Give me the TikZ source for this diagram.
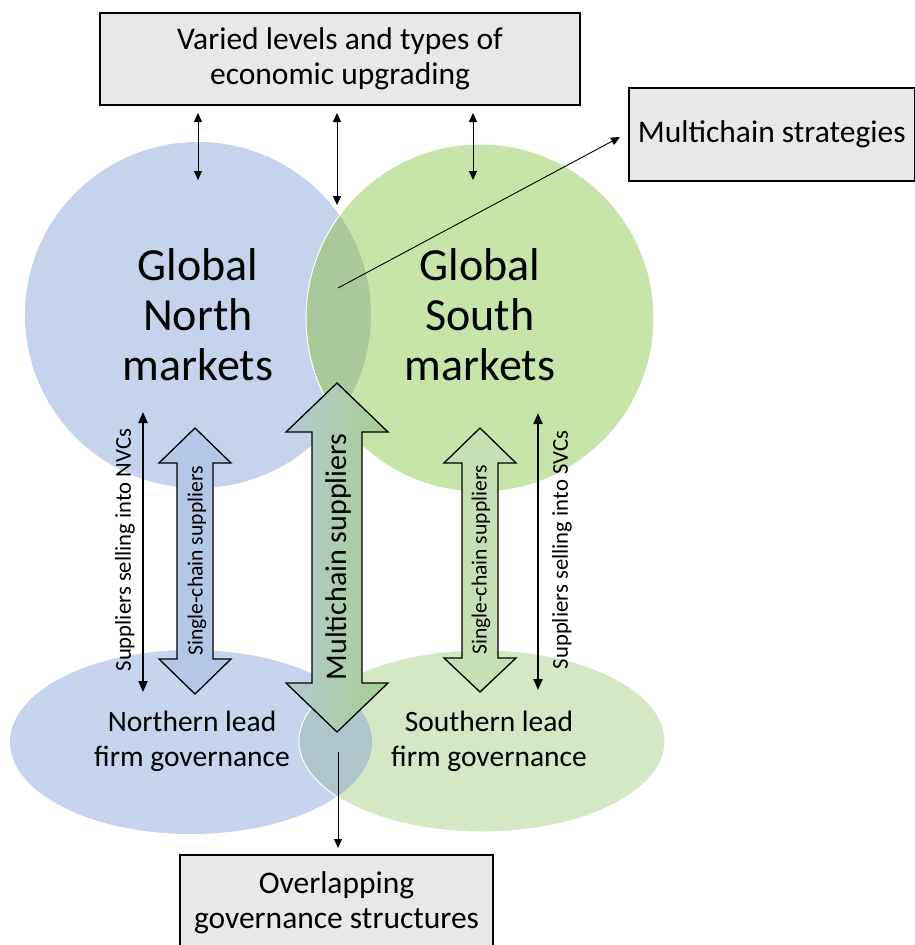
\documentclass[tikz,border=0pt]{standalone}
\usepackage{fontspec}
\setmainfont{Carlito}
\usetikzlibrary{arrows.meta}
\definecolor{nblue}{HTML}{C5D3EC}
\definecolor{sgreen}{HTML}{C7E4A9}
\definecolor{ovtop}{HTML}{A9C99B}
\definecolor{eblue}{HTML}{C6D4EE}
\definecolor{egreen}{HTML}{D4E8C5}
\definecolor{ovbot}{HTML}{ADC5CB}
\definecolor{boxgray}{HTML}{E8E8E8}
\definecolor{arrblue}{HTML}{B4C7E7}
\definecolor{arrgreen}{HTML}{C5E0B4}
\definecolor{mcleft}{HTML}{B3C8D3}
\definecolor{mcright}{HTML}{A6D08E}
\tikzset{
  infobox/.style={draw=black, line width=1.5pt, fill=boxgray, align=center,
    font=\fontsize{31.5}{35}\selectfont, inner sep=0pt},
  bigtext/.style={align=center, font=\fontsize{46}{50}\selectfont},
  govtext/.style={align=center, font=\fontsize{29.5}{35}\selectfont},
  thinarrow/.style={line width=0.9pt, {Triangle[length=9pt,width=8pt]}-{Triangle[length=9pt,width=8pt]}},
  onearrow/.style={line width=0.9pt, -{Triangle[length=9pt,width=8pt]}},
  thickarrow/.style={line width=2pt, {Triangle[length=11pt,width=9pt]}-{Triangle[length=11pt,width=9pt]}},
  sidetext/.style={rotate=90, font=\fontsize{22.7}{26}\selectfont},
  chaintext/.style={rotate=90, font=\fontsize{21.6}{26}\selectfont},
  fatarrow/.style={draw=black, line width=1.3pt, line join=miter},
}
\begin{document}
\begin{tikzpicture}[x=1pt,y=-1pt]
\useasboundingbox (0,0) rectangle (915,945);

% top circles
\fill[nblue] (198,315) circle[radius=173pt];
\fill[sgreen] (480,318) circle[radius=174pt];
\begin{scope}
  \clip (198,315) circle[radius=173pt];
  \fill[ovtop] (480,318) circle[radius=174pt];
\end{scope}
\draw[white, line width=1pt] (480,318) circle[radius=174pt];

% bottom ellipses
\fill[eblue] (191,742) ellipse[x radius=181pt, y radius=92pt];
\fill[egreen] (482,741) ellipse[x radius=183pt, y radius=91pt];
\begin{scope}
  \clip (191,742) ellipse[x radius=181pt, y radius=92pt];
  \fill[ovbot] (482,741) ellipse[x radius=183pt, y radius=91pt];
\end{scope}
\draw[white, line width=1pt] (482,741) ellipse[x radius=183pt, y radius=91pt];

% labels in circles and ellipses
\node[bigtext] (north) at (198,315) {Global\\North\\markets};
\node[bigtext] (south) at (480,315) {Global\\South\\markets};
\node[govtext] (ngov) at (192,741) {Northern lead\\firm governance};
\node[govtext] (sgov) at (489,741) {Southern lead\\firm governance};

% boxes
\node[infobox, minimum width=480pt, minimum height=92pt] (upgr) at (340,59)
  {Varied levels and types of\\economic upgrading};
\node[infobox, minimum width=286pt, minimum height=93pt, anchor=west] (mcs) at (628,134.5)
  {Multichain strategies};
\node[infobox, minimum width=313pt, minimum height=96pt] (ogov) at (336.5,903)
  {Overlapping\\governance structures};

% single-chain arrows
\draw[fatarrow, fill=arrblue] (195,428) -- (231,463) -- (213,463) -- (213,659) -- (231,659)
  -- (195,694) -- (159,659) -- (177,659) -- (177,463) -- (159,463) -- cycle;
\node[chaintext] (scn) at (197,561) {Single-chain suppliers};
\draw[fatarrow, fill=arrgreen] (480,428) -- (516,463) -- (498,463) -- (498,658) -- (516,658)
  -- (480,692) -- (444,658) -- (462,658) -- (462,463) -- (444,463) -- cycle;
\node[chaintext] (scs) at (481,560) {Single-chain suppliers};

% multichain arrow
\draw[fatarrow, left color=mcleft, right color=mcright] (337,383) -- (388,432) -- (362,432)
  -- (362,683) -- (388,683) -- (337,732) -- (286,683) -- (312,683) -- (312,432)
  -- (286,432) -- cycle;
\node[rotate=90, font=\fontsize{30}{34}\selectfont] (mcsup) at (338,557) {Multichain suppliers};

% black side arrows
\coordinate (nvtop) at (143,412);
\coordinate (nvbot) at (143,692);
\draw[thickarrow] (nvtop) -- (nvbot);
\node[sidetext] (nvc) at (125,550) {Suppliers selling into NVCs};
\coordinate (svtop) at (538,413);
\coordinate (svbot) at (538,690);
\draw[thickarrow] (svtop) -- (svbot);
\node[sidetext] (svc) at (562,550) {Suppliers selling into SVCs};

% thin arrows top
\coordinate (a1t) at (198,113);
\coordinate (a1b) at (198,180);
\coordinate (a2t) at (337,113);
\coordinate (a2b) at (337,205);
\coordinate (a3t) at (473,113);
\coordinate (a3b) at (473,180);
\draw[thinarrow] (a1t) -- (a1b);
\draw[thinarrow] (a2t) -- (a2b);
\draw[thinarrow] (a3t) -- (a3b);

% diagonal to multichain strategies
\coordinate (dstart) at (338,288);
\coordinate (dend) at (620,137);
\draw[onearrow] (dstart) -- (dend);

% bottom arrow
\coordinate (bstart) at (338,752);
\coordinate (bend) at (338,848);
\draw[onearrow] (bstart) -- (bend);
\end{tikzpicture}
\end{document}
